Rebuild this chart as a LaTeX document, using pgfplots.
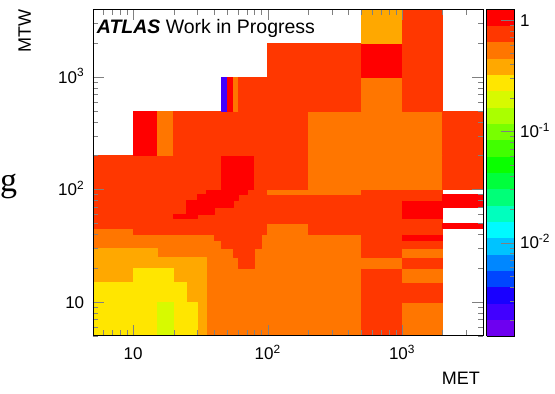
\documentclass[border=0pt]{standalone}
\usepackage{pgfplots}
\pgfplotsset{compat=1.18}
\usepgfplotslibrary{patchplots}
\usepackage{fontspec}
\setmainfont{Liberation Sans}
\newfontfamily\gfont{Liberation Serif}
\begin{document}
\begin{tikzpicture}
\useasboundingbox (0,0) rectangle (555pt,394pt);
\node[anchor=base west, inner sep=0pt] at (0pt,202pt) {\gfont\fontsize{34}{34}\selectfont g};
\begin{axis}[
  at={(92.7pt,58.3pt)}, anchor=south west,
  scale only axis, width=390.3pt, height=326.4pt,
  xmode=log, ymode=log,
  xmin=5, xmax=4000, ymin=5, ymax=4000,
  axis on top,
  colormap={rootpal}{
    rgb255=(110,0,240) rgb255=(65,0,255) rgb255=(25,0,255) rgb255=(0,70,255)
    rgb255=(0,135,255) rgb255=(0,195,255) rgb255=(0,250,255) rgb255=(0,255,190)
    rgb255=(0,255,120) rgb255=(0,255,60) rgb255=(10,255,0) rgb255=(65,255,0)
    rgb255=(120,255,0) rgb255=(170,255,0) rgb255=(215,250,0) rgb255=(255,230,0)
    rgb255=(255,168,0) rgb255=(255,118,0) rgb255=(255,55,0) rgb255=(255,0,0)},
  colormap access=piecewise constant,
  point meta min=0, point meta max=20,
  xtick={10,100,1000},
  xticklabels={10,10\textsuperscript{2},10\textsuperscript{3}},
  ytick={10,100,1000},
  yticklabels={10,10\textsuperscript{2},10\textsuperscript{3}},
  minor xtick={5,6,7,8,9,20,30,40,50,60,70,80,90,200,300,400,500,600,700,800,900,2000,3000,4000},
  minor ytick={5,6,7,8,9,20,30,40,50,60,70,80,90,200,300,400,500,600,700,800,900,2000,3000,4000},
  major tick length=11pt, minor tick length=5.5pt,
  tick label style={font=\fontsize{17}{17}\selectfont},
  xticklabel style={anchor=base, yshift=-24.3pt},
  yticklabel style={anchor=base east, yshift=-6.2pt, xshift=-5pt},
  xlabel={MET},
  xlabel style={at={(axis description cs:0.9923,-0.1103)}, anchor=north east, inner sep=0pt, font=\fontsize{18}{18}\selectfont},
  ylabel={MTW},
  ylabel style={at={(axis description cs:-0.1742,1)}, anchor=east, inner sep=0pt, font=\fontsize{18}{18}\selectfont},
  colorbar,
  colorbar style={
    at={(parent axis.north east)}, anchor=north west, xshift=-5pt,
    scale only axis, width=28pt, height=326.4pt,
    axis on top,
    ytick={5.700,12.524,19.348},
    yticklabels={10\textsuperscript{-2},10\textsuperscript{-1},1},
    minor ytick={0.928,2.129,2.982,3.644,4.183,4.640,5.036,5.384,7.752,8.953,9.806,10.468,11.007,11.464,11.860,12.208,14.575,15.777,16.630,17.292,17.831,18.288,18.684,19.032},
    ytick pos=right, yticklabel pos=right,
    tick align=inside,
    major tick length=14pt, minor tick length=5pt,
    yticklabel style={anchor=base west, yshift=-6.2pt, xshift=2pt, font=\fontsize{17}{17}\selectfont},
  },
]
\addplot[patch, patch type=rectangle, shader=flat, point meta=explicit] coordinates {
(5,5)[17.5] (100,5)[17.5] (100,100)[17.5] (5,100)[17.5]
(5,45)[18.5] (10,45)[18.5] (10,100)[18.5] (5,100)[18.5]
(10,40)[18.5] (40,40)[18.5] (40,100)[18.5] (10,100)[18.5]
(40,35)[18.5] (45,35)[18.5] (45,100)[18.5] (40,100)[18.5]
(45,30)[18.5] (55,30)[18.5] (55,100)[18.5] (45,100)[18.5]
(55,25)[18.5] (60,25)[18.5] (60,100)[18.5] (55,100)[18.5]
(60,20)[18.5] (80,20)[18.5] (80,100)[18.5] (60,100)[18.5]
(80,30)[18.5] (90,30)[18.5] (90,100)[18.5] (80,100)[18.5]
(90,40)[18.5] (100,40)[18.5] (100,100)[18.5] (90,100)[18.5]
(35,90)[19.5] (70,90)[19.5] (70,100)[19.5] (35,100)[19.5]
(30,80)[19.5] (60,80)[19.5] (60,90)[19.5] (30,90)[19.5]
(25,70)[19.5] (55,70)[19.5] (55,80)[19.5] (25,80)[19.5]
(25,60)[19.5] (40,60)[19.5] (40,70)[19.5] (25,70)[19.5]
(20,55)[19.5] (30,55)[19.5] (30,60)[19.5] (20,60)[19.5]
(5,15)[16.5] (10,15)[16.5] (10,30)[16.5] (5,30)[16.5]
(10,20)[16.5] (15,20)[16.5] (15,30)[16.5] (10,30)[16.5]
(15,20)[16.5] (20,20)[16.5] (20,25)[16.5] (15,25)[16.5]
(20,15)[16.5] (25,15)[16.5] (25,25)[16.5] (20,25)[16.5]
(25,10)[16.5] (30,10)[16.5] (30,25)[16.5] (25,25)[16.5]
(30,5)[16.5] (35,5)[16.5] (35,25)[16.5] (30,25)[16.5]
(5,5)[15.5] (10,5)[15.5] (10,15)[15.5] (5,15)[15.5]
(10,5)[15.5] (15,5)[15.5] (15,20)[15.5] (10,20)[15.5]
(15,10)[15.5] (20,10)[15.5] (20,20)[15.5] (15,20)[15.5]
(20,5)[15.5] (25,5)[15.5] (25,15)[15.5] (20,15)[15.5]
(25,5)[15.5] (30,5)[15.5] (30,10)[15.5] (25,10)[15.5]
(15,5)[14.5] (20,5)[14.5] (20,10)[14.5] (15,10)[14.5]
(100,5)[17.5] (200,5)[17.5] (200,50)[17.5] (100,50)[17.5]
(100,50)[18.5] (200,50)[18.5] (200,90)[18.5] (100,90)[18.5]
(100,90)[17.5] (200,90)[17.5] (200,100)[17.5] (100,100)[17.5]
(200,5)[17.5] (500,5)[17.5] (500,40)[17.5] (200,40)[17.5]
(200,40)[18.5] (500,40)[18.5] (500,90)[18.5] (200,90)[18.5]
(200,90)[17.5] (500,90)[17.5] (500,100)[17.5] (200,100)[17.5]
(500,5)[18.5] (1000,5)[18.5] (1000,20)[18.5] (500,20)[18.5]
(500,20)[17.5] (1000,20)[17.5] (1000,25)[17.5] (500,25)[17.5]
(500,25)[18.5] (1000,25)[18.5] (1000,100)[18.5] (500,100)[18.5]
(1000,5)[17.5] (2000,5)[17.5] (2000,10)[17.5] (1000,10)[17.5]
(1000,10)[18.5] (2000,10)[18.5] (2000,15)[18.5] (1000,15)[18.5]
(1000,15)[17.5] (2000,15)[17.5] (2000,20)[17.5] (1000,20)[17.5]
(1000,20)[18.5] (2000,20)[18.5] (2000,25)[18.5] (1000,25)[18.5]
(1000,25)[17.5] (2000,25)[17.5] (2000,30)[17.5] (1000,30)[17.5]
(1000,30)[18.5] (2000,30)[18.5] (2000,35)[18.5] (1000,35)[18.5]
(1000,35)[19.5] (2000,35)[19.5] (2000,40)[19.5] (1000,40)[19.5]
(1000,40)[18.5] (2000,40)[18.5] (2000,55)[18.5] (1000,55)[18.5]
(1000,55)[19.5] (2000,55)[19.5] (2000,80)[19.5] (1000,80)[19.5]
(1000,80)[18.5] (2000,80)[18.5] (2000,100)[18.5] (1000,100)[18.5]
(2000,45)[19.5] (4000,45)[19.5] (4000,50)[19.5] (2000,50)[19.5]
(2000,70)[19.5] (4000,70)[19.5] (4000,90)[19.5] (2000,90)[19.5]
(5,100)[18.5] (45,100)[18.5] (45,200)[18.5] (5,200)[18.5]
(45,100)[19.5] (80,100)[19.5] (80,200)[19.5] (45,200)[19.5]
(80,100)[18.5] (200,100)[18.5] (200,200)[18.5] (80,200)[18.5]
(200,100)[17.5] (2000,100)[17.5] (2000,200)[17.5] (200,200)[17.5]
(2000,100)[18.5] (4000,100)[18.5] (4000,200)[18.5] (2000,200)[18.5]
(10,200)[19.5] (15,200)[19.5] (15,500)[19.5] (10,500)[19.5]
(15,200)[17.5] (20,200)[17.5] (20,500)[17.5] (15,500)[17.5]
(20,200)[18.5] (200,200)[18.5] (200,500)[18.5] (20,500)[18.5]
(200,200)[17.5] (2000,200)[17.5] (2000,500)[17.5] (200,500)[17.5]
(2000,200)[18.5] (4000,200)[18.5] (4000,500)[18.5] (2000,500)[18.5]
(45,500)[1.5] (50,500)[1.5] (50,1000)[1.5] (45,1000)[1.5]
(50,500)[19.5] (55,500)[19.5] (55,1000)[19.5] (50,1000)[19.5]
(55,500)[17.5] (60,500)[17.5] (60,1000)[17.5] (55,1000)[17.5]
(60,500)[18.5] (500,500)[18.5] (500,1000)[18.5] (60,1000)[18.5]
(500,500)[17.5] (1000,500)[17.5] (1000,1000)[17.5] (500,1000)[17.5]
(1000,500)[18.5] (2000,500)[18.5] (2000,1000)[18.5] (1000,1000)[18.5]
(100,1000)[18.5] (500,1000)[18.5] (500,2000)[18.5] (100,2000)[18.5]
(500,1000)[19.5] (1000,1000)[19.5] (1000,2000)[19.5] (500,2000)[19.5]
(1000,1000)[18.5] (2000,1000)[18.5] (2000,2000)[18.5] (1000,2000)[18.5]
(500,2000)[16.5] (1000,2000)[16.5] (1000,4000)[16.5] (500,4000)[16.5]
(1000,2000)[18.5] (2000,2000)[18.5] (2000,4000)[18.5] (1000,4000)[18.5]
};
\node[anchor=base west, inner sep=0pt, font=\fontsize{19.5}{19.5}\selectfont] at (rel axis cs:0.0102,0.9265) {\textbf{\textit{ATLAS}} Work in Progress};
\end{axis}
\end{tikzpicture}
\end{document}
